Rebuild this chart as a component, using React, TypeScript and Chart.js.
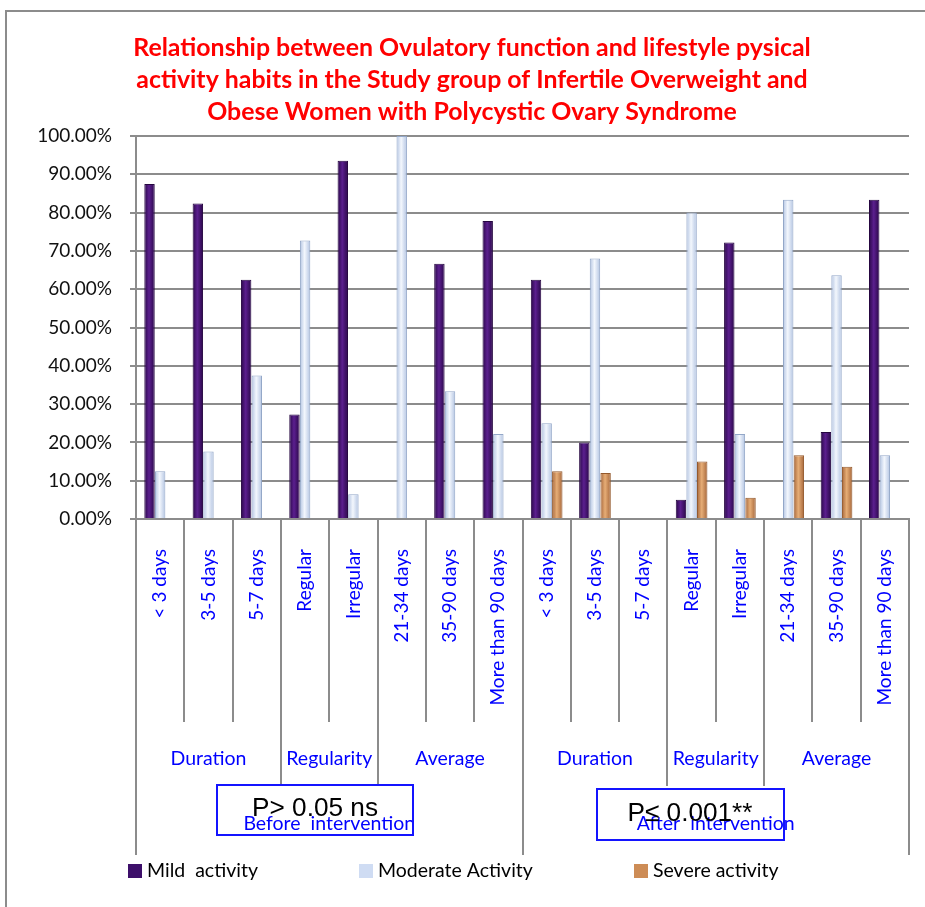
import React, { useEffect, useRef } from "react";
import { Chart, registerables } from "chart.js";

Chart.register(...registerables);

const categories = [
  "< 3 days", "3-5 days", "5-7 days", "Regular", "Irregular", "21-34 days", "35-90 days", "More than 90 days",
  "< 3 days", "3-5 days", "5-7 days", "Regular", "Irregular", "21-34 days", "35-90 days", "More than 90 days",
];
const mildActivity = [87.5, 82.35, 62.5, 27.27, 93.55, 0, 66.67, 77.78, 62.5, 20, 0, 5, 72.22, 0, 22.73, 83.33];
const moderateActivity = [12.5, 17.65, 37.5, 72.73, 6.45, 100, 33.33, 22.22, 25, 68, 0, 80, 22.22, 83.33, 63.64, 16.67];
const severeActivity = [0, 0, 0, 0, 0, 0, 0, 0, 12.5, 12, 0, 15, 5.56, 16.67, 13.64, 0];

const subGroupLabels = ["Duration", "Regularity", "Average", "Duration", "Regularity", "Average"];
const subGroupSizes = [3, 2, 3, 3, 2, 3];
const phaseLabels = ["Before  intervention", "After  intervention"];
const phaseSizes = [8, 8];
const pValueLabels = ["P> 0.05 ns", "P\u2264 0.001**"];
const seriesNames = ["Mild  activity", "Moderate Activity", "Severe activity"];
const titleLines = [
  "Relationship between Ovulatory function and lifestyle pysical",
  "activity habits in the Study group of Infertile Overweight and",
  "Obese Women with Polycystic Ovary Syndrome",
];

const FONT = "Lato, 'Open Sans', 'DejaVu Sans', sans-serif";
const CAT_PCT = 0.66;
const BAR_PCT = 0.98;

const palettes = [
  { edge: "#2a0749", mid: "#5b1f8e", border: "#250640", swatch: "#3d0f6a" },
  { edge: "#b3c4e2", mid: "#f3f7fd", border: "#93a7c8", swatch: "#cfdcf3" },
  { edge: "#a6663a", mid: "#e6ad76", border: "#94592c", swatch: "#cd8c56" },
];

function cylFill(dsIndex: number) {
  return (ctx: any) => {
    const chart = ctx.chart;
    const xs = chart.scales && chart.scales.x;
    const p = palettes[dsIndex];
    if (!xs || !chart.chartArea || ctx.type !== "data") return p.swatch;
    const cw = (xs.right - xs.left) / categories.length;
    const bw = (cw * CAT_PCT) / 3;
    const c = xs.getPixelForValue(ctx.dataIndex) + (dsIndex - 1) * bw;
    const w = bw * BAR_PCT;
    const g = chart.ctx.createLinearGradient(c - w / 2, 0, c + w / 2, 0);
    g.addColorStop(0, p.edge);
    g.addColorStop(0.45, p.mid);
    g.addColorStop(1, p.edge);
    return g;
  };
}

function fitFont(ctx: CanvasRenderingContext2D, text: string, family: string, weight: string, target: number) {
  ctx.font = `${weight} 20px ${family}`;
  const w = ctx.measureText(text).width;
  const size = (20 * target) / w;
  return `${weight} ${size.toFixed(2)}px ${family}`;
}

const decorPlugin = {
  id: "decor",
  afterDraw(chart: any) {
    const { ctx } = chart;
    const xs = chart.scales.x;
    const ys = chart.scales.y;
    const n = categories.length;
    const cw = (xs.right - xs.left) / n;
    const base = ys.getPixelForValue(0);
    ctx.save();

    // outer frame
    ctx.strokeStyle = "#8c8c8c";
    ctx.lineWidth = 2;
    ctx.beginPath();
    ctx.moveTo(6, 2000);
    ctx.lineTo(6, 11);
    ctx.lineTo(2000, 11);
    ctx.stroke();

    // title
    ctx.font = fitFont(ctx, titleLines[0], FONT, "bold", 678);
    ctx.fillStyle = "#ff0000";
    ctx.textAlign = "center";
    ctx.textBaseline = "middle";
    titleLines.forEach((t, i) => ctx.fillText(t, 472, 48 + i * 32));

    // category dividers below the axis
    const groupBounds = new Set<number>();
    let acc = 0;
    subGroupSizes.forEach((s) => { acc += s; groupBounds.add(acc); });
    const phaseBounds = new Set<number>([0]);
    acc = 0;
    phaseSizes.forEach((s) => { acc += s; phaseBounds.add(acc); });
    ctx.strokeStyle = "#8c8c8c";
    ctx.lineWidth = 2;
    for (let i = 0; i <= n; i++) {
      const x = Math.round(xs.left + i * cw);
      const end = phaseBounds.has(i) ? 855 : groupBounds.has(i) ? 786 : 722;
      ctx.beginPath();
      ctx.moveTo(x, base);
      ctx.lineTo(x, end);
      ctx.stroke();
    }

    // sub group labels
    ctx.font = `19.5px ${FONT}`;
    ctx.fillStyle = "#0000ff";
    acc = 0;
    subGroupSizes.forEach((s, i) => {
      const cx = xs.left + (acc + s / 2) * cw;
      ctx.fillText(subGroupLabels[i], cx, 759);
      acc += s;
    });
    // phase labels
    acc = 0;
    phaseSizes.forEach((s, i) => {
      const cx = xs.left + (acc + s / 2) * cw;
      ctx.fillText(phaseLabels[i], cx, 824);
      acc += s;
    });

    // P value boxes
    const boxes = [
      { x: 217, y: 785, w: 196, h: 50, tx: 315, ty: 809, tw: 126 },
      { x: 597, y: 789, w: 187, h: 51, tx: 690, ty: 814, tw: 125 },
    ];
    boxes.forEach((b, i) => {
      ctx.strokeStyle = "#1414ff";
      ctx.lineWidth = 2;
      ctx.strokeRect(b.x, b.y, b.w, b.h);
      ctx.fillStyle = "#000000";
      ctx.font = fitFont(ctx, pValueLabels[i], "'Liberation Sans', Arial, sans-serif", "normal", b.tw);
      ctx.fillText(pValueLabels[i], b.tx, b.ty);
    });

    // legend
    const legendX = [128, 359, 634];
    ctx.textAlign = "left";
    ctx.font = `19.5px ${FONT}`;
    chart.data.datasets.forEach((ds: any, i: number) => {
      ctx.fillStyle = palettes[i].swatch;
      ctx.fillRect(legendX[i], 864, 14, 14);
      ctx.fillStyle = "#000000";
      ctx.fillText(ds.label, legendX[i] + 19, 871);
    });

    ctx.restore();
  },
};

export default function App() {
  const ref = useRef<HTMLCanvasElement | null>(null);
  useEffect(() => {
    if (!ref.current) return;
    const series = [mildActivity, moderateActivity, severeActivity];
    const chart = new Chart(ref.current, {
      type: "bar",
      data: {
        labels: categories,
        datasets: series.map((d, i) => ({
          label: seriesNames[i],
          data: d,
          backgroundColor: cylFill(i),
          borderColor: palettes[i].border,
          borderWidth: 1,
          categoryPercentage: CAT_PCT,
          barPercentage: BAR_PCT,
        })),
      },
      options: {
        responsive: false,
        animation: false,
        layout: { padding: { top: 136, right: 16, left: 0, bottom: 0 } },
        plugins: {
          legend: { display: false },
          title: { display: false },
          tooltip: { enabled: false },
        },
        scales: {
          x: {
            grid: { display: false },
            border: { display: true, color: "#8c8c8c", width: 2 },
            ticks: {
              autoSkip: false,
              maxRotation: 90,
              minRotation: 90,
              color: "#0000ff",
              font: { family: FONT, size: 19 },
              padding: 22,
            },
            afterFit: (scale: any) => {
              scale.height = 388;
              scale.paddingLeft = 0;
              scale.paddingRight = 0;
            },
          },
          y: {
            min: 0,
            max: 100,
            ticks: {
              stepSize: 10,
              color: "#111111",
              font: { family: FONT, size: 19 },
              padding: 18,
              callback: (v: any) => `${Number(v).toFixed(2)}%`,
            },
            grid: { color: "#8c8c8c", lineWidth: 2, tickLength: 6 },
            border: { display: true, color: "#8c8c8c", width: 2 },
            afterFit: (scale: any) => { scale.width = 136; },
          },
        },
      },
      plugins: [decorPlugin],
    });
    return () => chart.destroy();
  }, []);
  return (
    <div style={{ position: "absolute", left: 0, top: 0, width: 925, height: 907, background: "#fff" }}>
      <canvas ref={ref} width={925} height={907} style={{ width: 925, height: 907, display: "block" }} />
    </div>
  );
}
